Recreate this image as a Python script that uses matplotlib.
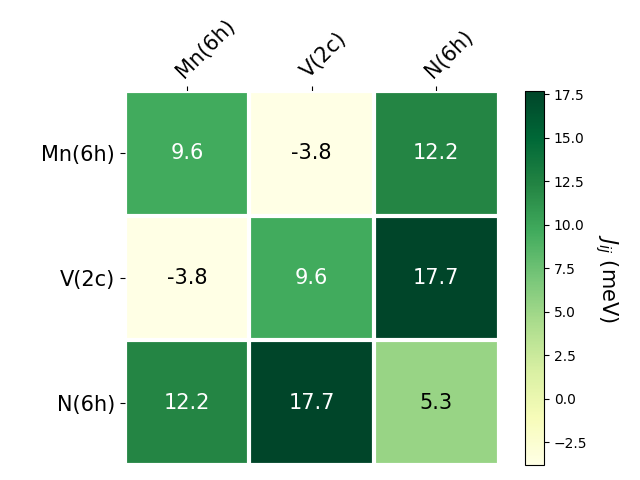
import matplotlib

matplotlib.use("Agg")
import matplotlib.pyplot as plt
import numpy as np

sites = ["Mn(6h)", "V(2c)", "N(6h)"]
row_mn = [9.6, -3.8, 12.2]
row_v = [-3.8, 9.6, 17.7]
row_n = [12.2, 17.7, 5.3]

data = np.array([row_mn, row_v, row_n])

fig, ax = plt.subplots(figsize=(6.4, 4.8), dpi=100)
im = ax.imshow(data, cmap="YlGn")

cbar = ax.figure.colorbar(im, ax=ax)
cbar.ax.set_ylabel("$J_{ij}$ (meV)", rotation=-90, va="bottom", fontsize=15)

ax.set_xticks(np.arange(len(sites)), labels=sites, fontsize=15)
ax.set_yticks(np.arange(len(sites)), labels=sites, fontsize=15)
ax.tick_params(top=True, bottom=False, labeltop=True, labelbottom=False)
plt.setp(ax.get_xticklabels(), rotation=45, ha="left", rotation_mode="anchor")

ax.spines[:].set_visible(False)
ax.set_xticks(np.arange(data.shape[1] + 1) - 0.5, minor=True)
ax.set_yticks(np.arange(data.shape[0] + 1) - 0.5, minor=True)
ax.grid(which="minor", color="w", linestyle="-", linewidth=3)
ax.tick_params(which="minor", bottom=False, left=False, top=False)

threshold = im.norm(data.max()) / 2.0
for i in range(data.shape[0]):
    for j in range(data.shape[1]):
        color = "white" if im.norm(data[i, j]) > threshold else "black"
        ax.text(j, i, f"{data[i, j]:.1f}", ha="center", va="center",
                color=color, fontsize=15)

fig.tight_layout()
fig.savefig("out.png")
